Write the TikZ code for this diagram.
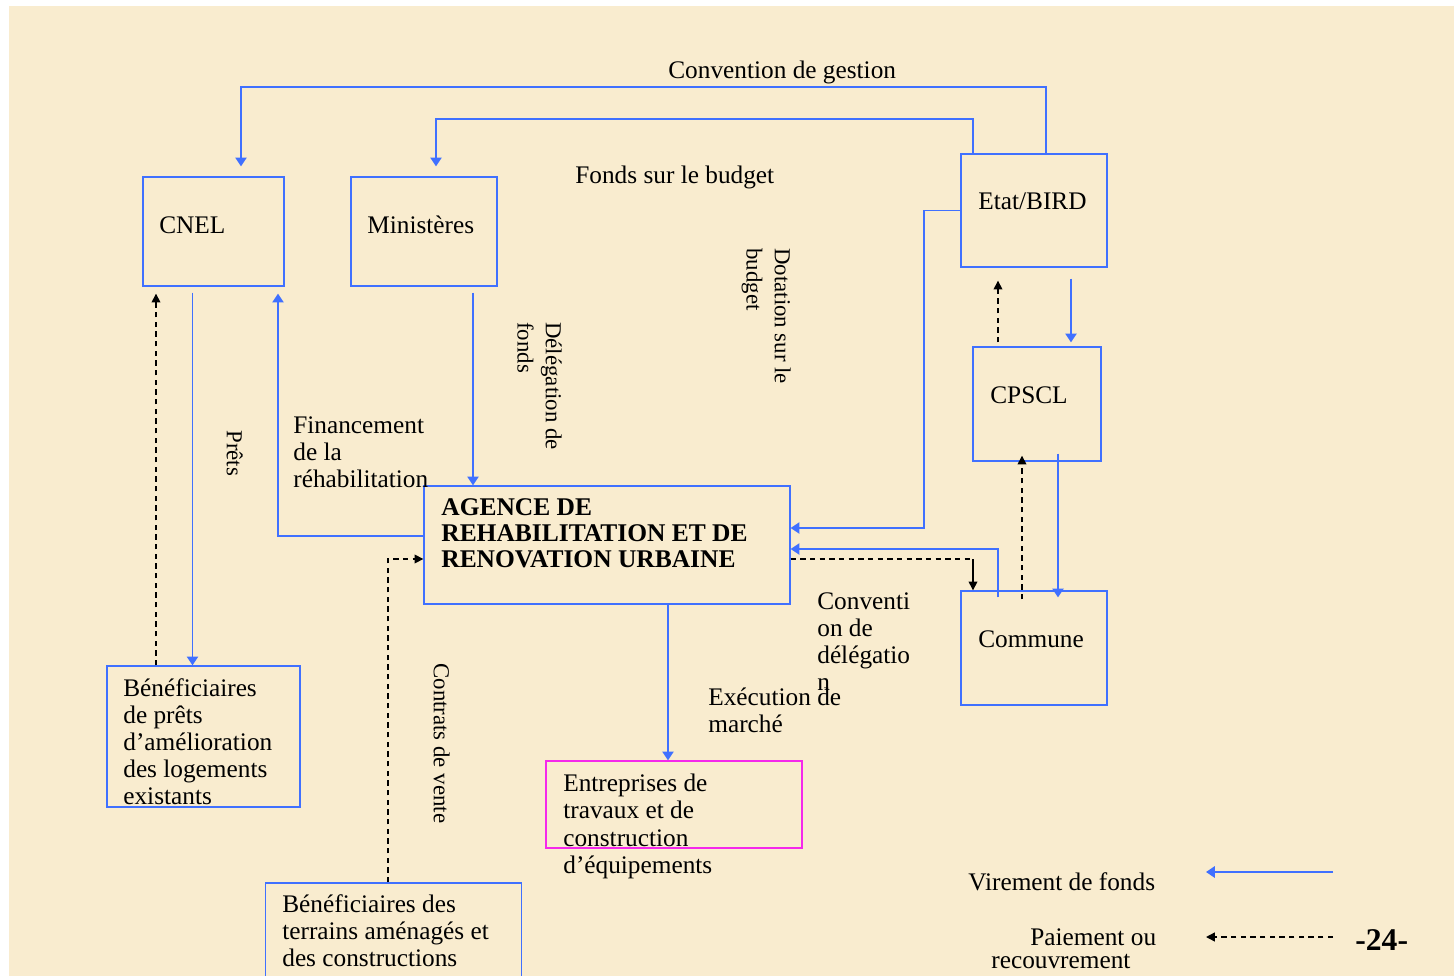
\documentclass[tikz,border=0pt]{standalone}
\usepackage{fontspec}
\setmainfont{Liberation Serif}
\usetikzlibrary{arrows.meta,calc}
\definecolor{fond}{RGB}{249,236,207}
\definecolor{bleu}{RGB}{64,112,255}
\definecolor{rose}{RGB}{245,40,235}
\tikzset{
  boite/.style={draw=bleu, line width=0.8pt, inner sep=0pt},
  txt/.style={anchor=north west, align=left, inner sep=0pt, font=\fontsize{14.4}{15.4}\selectfont},
  vtxt/.style={txt, rotate=-90, font=\fontsize{13}{16}\selectfont},
  fonds/.style={draw=bleu, line width=0.8pt, -{Triangle[width=6.5pt,length=5pt]}},
  paie/.style={line width=0.8pt, dash pattern=on 3pt off 2.5pt, -{Triangle[width=5pt,length=5pt]}},
}
\begin{document}
\begin{tikzpicture}[x = .02cm, y = -.02cm]
  \clip (0,0) rectangle (1454,976);
  \fill[white] (0,0) rectangle (1454,976);
  \fill[fond] (9,6) rectangle (1454,976);

  % boites
  \node[boite, minimum width=2.82cm, minimum height=2.18cm] (cnel) at (213.5,231.5) {};
  \node[boite, minimum width=2.92cm, minimum height=2.18cm] (min) at (424,231.5) {};
  \node[boite, minimum width=2.92cm, minimum height=2.26cm] (etat) at (1034,210.5) {};
  \node[boite, minimum width=2.56cm, minimum height=2.28cm] (cpscl) at (1037,404) {};
  \node[boite, minimum width=2.92cm, minimum height=2.28cm] (comm) at (1034,648) {};
  \node[boite, minimum width=7.32cm, minimum height=2.36cm] (agence) at (607,545) {};
  \node[boite, minimum width=3.86cm, minimum height=2.82cm] (benp) at (203.5,736.5) {};
  \node[boite, draw=rose, minimum width=5.12cm, minimum height=1.74cm] (entr) at (674,804.5) {};
  \node[boite, minimum width=5.12cm, minimum height=2.4cm] (bent) at (393.5,943) {};

  % textes des boites
  \node[txt] (tcnel) at (159,216) {CNEL};
  \node[txt] (tmin) at (367,216) {Ministères};
  \node[txt] (tetat) at (978,192) {Etat/BIRD};
  \node[txt] (tcpscl) at (990,386) {CPSCL};
  \node[txt] (tcomm) at (978,630) {Commune};
  \node[txt, font=\fontsize{14.5}{14.8}\selectfont\bfseries] (tagence) at (441,498.5)
    {AGENCE DE\\REHABILITATION ET DE\\RENOVATION URBAINE};
  \node[txt] (tbenp) at (123,678.5) {Bénéficiaires\\de prêts\\d’amélioration\\des logements\\existants};
  \node[txt] (tentr) at (563,774) {Entreprises de\\travaux et de\\construction\\d’équipements};
  \node[txt] (tbent) at (282,894.5) {Bénéficiaires des\\terrains aménagés et\\des constructions};

  % etiquettes
  \node[txt] (lconv) at (668,61) {Convention de gestion};
  \node[txt] (lfonds) at (575,166) {Fonds sur le budget};
  \node[txt] (lfin) at (293,416.5) {Financement\\de la\\réhabilitation};
  \node[txt] (ldel) at (817,592) {Conventi\\on de\\délégatio\\n};
  \node[txt] (lexec) at (708,687.5) {Exécution de\\marché};
  \node[vtxt] (ldot) at (791,248) {Dotation sur le\\budget};
  \node[vtxt] (ldelf) at (562,322) {Délégation de\\fonds};
  \node[vtxt] (lprets) at (243,430) {Prêts};
  \node[vtxt] (lvente) at (450,663) {Contrats de vente};

  % liaisons du haut
  \coordinate (cg) at (1046,87);
  \coordinate (fb) at (973,119);
  \draw[fonds, shorten >=0.2cm] (etat.north -| cg) -- (cg) -| ($(cnel.north)+(27.5,0)$);
  \draw[fonds, shorten >=0.2cm] (etat.north -| fb) -- (fb) -| ($(min.north)+(12,0)$);
  \coordinate (db) at (924,528);
  \draw[fonds] (etat.west) -| (db) -- (agence.east |- db);

  % CNEL et ministeres
  \coordinate (p1) at ($(cnel.south)+(-21,6)$);
  \draw[fonds] (p1) -- (p1 |- benp.north);
  \coordinate (p2) at ($(benp.north)+(-47.5,0)$);
  \draw[paie, shorten >=0.14cm] (p2) -- (p2 |- cnel.south);
  \draw[fonds, shorten >=0.14cm] ($(agence.west)+(0,-9)$) -| ($(cnel.south)+(64.5,0)$);
  \coordinate (p3) at ($(min.south)+(49,6)$);
  \draw[fonds] (p3) -- (p3 |- agence.north);

  % agence
  \coordinate (c1) at ($(agence.west)+(0,14)$);
  \draw[paie] ($(bent.north)+(-5.5,0)$) |- (c1);
  \coordinate (e1) at ($(agence.south)+(61,0)$);
  \draw[fonds] (e1) -- (e1 |- entr.north);
  \coordinate (c2) at ($(agence.east)+(0,4)$);
  \draw[fonds] ($(comm.north)+(-36,7)$) |- (c2);
  \coordinate (a1) at ($(agence.east)+(0,14)$);
  \coordinate (c3) at ($(comm.north)+(-61,0)$);
  \draw[line width=0.8pt, dash pattern=on 3pt off 2.5pt] (a1) -- (a1 -| c3);
  \draw[line width=0.8pt, -{Triangle[width=5pt,length=5pt]}] (a1 -| c3) -- (c3);

  % CPSCL
  \coordinate (k1) at ($(cpscl.south)+(21,-8)$);
  \draw[fonds, shorten >=-0.14cm] (k1) -- (k1 |- comm.north);
  \coordinate (k2) at ($(comm.north)+(-12,9)$);
  \draw[paie, shorten >=-0.12cm] (k2) -- (k2 |- cpscl.south);
  \coordinate (k3) at ($(etat.south)+(37,11)$);
  \draw[fonds, shorten >=0.08cm] (k3) -- (k3 |- cpscl.north);
  \coordinate (k4) at ($(cpscl.north)+(-39,-4)$);
  \draw[paie, shorten >=0.26cm] (k4) -- (k4 |- etat.south);

  % legende
  \node[txt] (lvir) at (968,872) {Virement de fonds};
  \node[txt] (lpaie) at (1030,928) {Paiement ou};
  \node[txt] (lrec) at (991,953.5) {recouvrement};
  \coordinate (lv1) at (1333,872);
  \coordinate (lv2) at (1206,872);
  \coordinate (lp1) at (1333,937);
  \coordinate (lp2) at (1206,937);
  \draw[fonds] (lv1) -- (lv2);
  \draw[paie] (lp1) -- (lp2);
  \node[txt, font=\fontsize{18}{19}\selectfont\bfseries] (page) at (1355,929) {-24-};
\end{tikzpicture}
\end{document}
